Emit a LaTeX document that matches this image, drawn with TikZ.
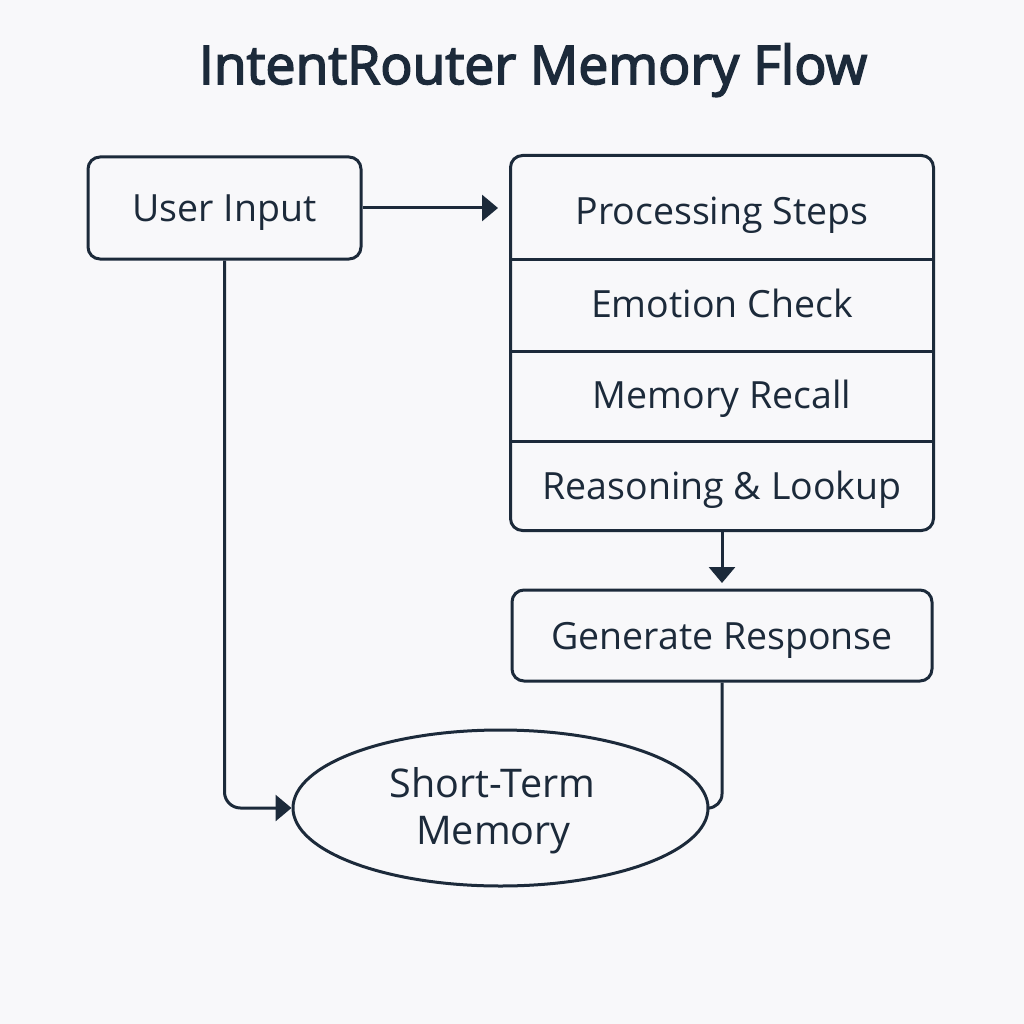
\documentclass[tikz,border=0pt]{standalone}
\usepackage{fontspec}
\setmainfont{Open Sans}
\newfontfamily\titlefont{Open Sans}[FakeBold=3]
\usetikzlibrary{arrows.meta,shapes.geometric}
\definecolor{ink}{HTML}{1C2A3A}
\definecolor{bg}{HTML}{F8F8FA}
\begin{document}
\begin{tikzpicture}[x=1pt,y=-1pt,
  line width=3pt, draw=ink, text=ink,
  lbl/.style={font=\fontsize{37.5}{44}\selectfont, text=ink, text height=27pt, text depth=0pt},
  box/.style={lbl, draw=ink, line width=3pt, rounded corners=12pt, inner sep=0pt},
  cell/.style={lbl, inner sep=0pt, minimum width=420pt},
  conn/.style={draw=ink, line width=3pt},
  tip/.style={-{Triangle[length=16pt,width=26pt]}}
]
\fill[bg] (0,0) rectangle (1024,1024);
\useasboundingbox (0,0) rectangle (1024,1024);

\node[font=\fontsize{53.5}{60}\titlefont, text=ink, text height=38pt, text depth=0pt, inner sep=0pt] (title) at (533,65) {IntentRouter Memory Flow};

\node[box, minimum width=273pt, minimum height=102pt] (ui) at (224.5,208) {User Input};

\node[cell, minimum height=101pt] (c1) at (722,207.5) {\raisebox{-4pt}{Processing Steps}};
\node[cell, minimum height=92pt] (c2) at (722,304) {Emotion Check};
\node[cell, minimum height=90pt] (c3) at (722,395) {Memory Recall};
\node[cell, minimum height=89pt] (c4) at (722,484.5) {\raisebox{-1pt}{Reasoning \& Lookup}};
\draw[line width=3pt, rounded corners=12pt] (c1.north west) rectangle (c4.south east);
\draw[line width=2.5pt] (c1.south west) -- (c1.south east);
\draw[line width=2.5pt] (c2.south west) -- (c2.south east);
\draw[line width=2.5pt] (c3.south west) -- (c3.south east);

\node[box, minimum width=420pt, minimum height=91pt] (gen) at (722,635.5) {Generate Response};

\node[draw=ink, line width=3pt, ellipse, minimum width=415pt, minimum height=156pt, inner sep=0pt] (stm) at (500.5,808) {};
\node[lbl, font=\fontsize{39.5}{46}\selectfont, text height=27.5pt, inner sep=0pt] (stm1) at (492.5,784) {Short-Term};
\node[lbl, font=\fontsize{39.5}{46}\selectfont, text height=27.5pt, inner sep=0pt] (stm2) at (493.5,830.5) {Memory};

\coordinate (a2) at (498,208);
\draw[conn, tip] (ui.east) -- (a2);
\coordinate (b1) at (722,583);
\draw[conn, tip] (c4.south) -- (b1);
\draw[conn, tip, rounded corners=16pt] (ui.south) |- (stm.west);
\draw[conn, rounded corners=14pt] (gen.south) |- (stm.east);
\end{tikzpicture}
\end{document}
